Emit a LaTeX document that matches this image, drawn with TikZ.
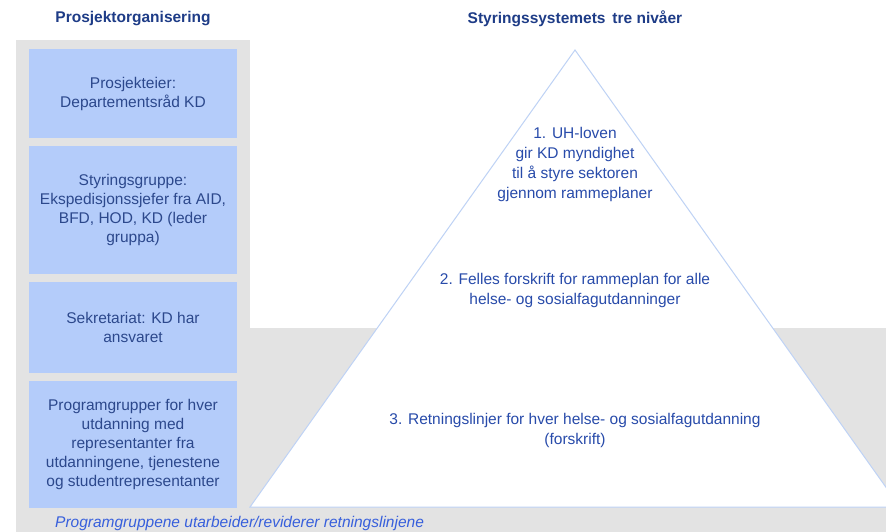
\documentclass[tikz,border=0pt]{standalone}
\usepackage{fontspec}
\setmainfont{Liberation Sans}
\definecolor{bggray}{RGB}{227,227,227}
\definecolor{boxblue}{RGB}{180,204,250}
\definecolor{boxtext}{RGB}{44,72,140}
\definecolor{tritext}{RGB}{40,75,170}
\definecolor{titleblue}{RGB}{30,60,135}
\definecolor{notetext}{RGB}{55,95,220}
\definecolor{edgeblue}{RGB}{190,210,245}
\tikzset{
  orgbox/.style={fill=boxblue, draw=none, minimum width=208pt, inner sep=0pt,
    text=boxtext, align=center, font=\fontsize{15.5}{19}\selectfont},
  levtext/.style={text=tritext, align=center, inner sep=0pt, font=\fontsize{15.5}{20}\selectfont},
  headtext/.style={text=titleblue, inner sep=0pt, font=\fontsize{15.5}{19}\selectfont\bfseries},
}
\begin{document}
\begin{tikzpicture}[x=1pt,y=-1pt]
\useasboundingbox (0,0) rectangle (886,532);
\clip (0,0) rectangle (886,532);
\fill[white] (0,0) rectangle (886,532);
% gray backgrounds
\fill[bggray] (16,40) rectangle (250,532);
\fill[bggray] (16,328) rectangle (886,532);
% pyramid
\coordinate (apex) at (575,50);
\coordinate (bl) at (250,507);
\coordinate (br) at (900,507);
\draw[edgeblue, fill=white, line width=1pt] (apex) -- (br) -- (bl) -- cycle;
% titles
\node[headtext] (t1) at (133,19) {Prosjektorganisering};
\node[headtext] (t2) at (575,19) {Styringssystemets\, tre nivåer};
% left boxes
\node[orgbox, minimum height=89pt] (b1) at (133,93.5) {Prosjekteier:\\Departementsråd KD};
\node[orgbox, minimum height=128pt] (b2) at (133,210) {Styringsgruppe:\\Ekspedisjonssjefer fra AID,\\BFD, HOD, KD (leder\\gruppa)};
\node[orgbox, minimum height=91pt] (b3) at (133,327.5) {Sekretariat: KD har\\ansvaret};
\node[orgbox, minimum height=127pt] (b4) at (133,444.5) {Programgrupper for hver\\utdanning med\\representanter fra\\utdanningene, tjenestene\\og studentrepresentanter};
% pyramid texts
\node[levtext] (l1) at (575,164) {1. UH-loven\\gir KD myndighet\\til å styre sektoren\\gjennom rammeplaner};
\node[levtext] (l2) at (575,290.5) {2. Felles forskrift for rammeplan for alle\\helse- og sosialfagutdanninger};
\node[levtext] (l3) at (575,430) {3. Retningslinjer for hver helse- og sosialfagutdanning\\(forskrift)};
% note
\node[anchor=west, inner sep=0pt, text=notetext, font=\fontsize{15.5}{19}\selectfont\itshape] (note) at (55,523) {Programgruppene utarbeider/reviderer retningslinjene};
\end{tikzpicture}
\end{document}
